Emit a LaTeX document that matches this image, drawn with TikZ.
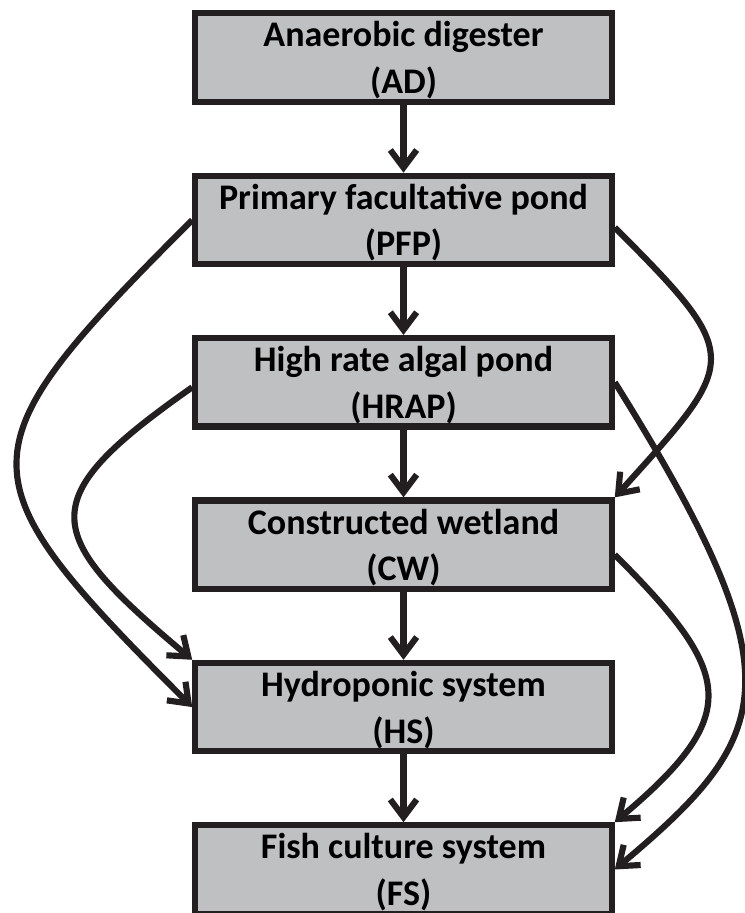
\documentclass[tikz,border=0pt]{standalone}
\usepackage{fontspec}
\setmainfont{Carlito}
\usetikzlibrary{arrows.meta}
\definecolor{boxgray}{RGB}{191,192,194}
\definecolor{linedark}{RGB}{35,31,32}
\newcommand{\stagetext}[2]{\rule{0pt}{17.5pt}#1\\(#2)}
\tikzset{
  stage/.style={draw=linedark, fill=boxgray, line width=3.5pt, minimum width=8.33cm,
    minimum height=1.77cm, inner sep=0pt, align=center,
    font=\bfseries\fontsize{20.5}{26.5}\selectfont},
  flow/.style={draw=linedark, line width=3.5pt, -{Straight Barb[length=10pt,width=15pt]}}
}
\begin{document}
\begin{tikzpicture}[x=0.02cm,y=0.02cm]
  \useasboundingbox (0,0) rectangle (744,913);

  % Stages of the treatment chain
  \node[stage] (AD)   at (403.5,855.5) {\stagetext{Anaerobic digester}{AD}};
  \node[stage] (PFP)  at (403.5,693.0) {\stagetext{Primary facultative pond}{PFP}};
  \node[stage] (HRAP) at (403.5,530.7) {\stagetext{High rate algal pond}{HRAP}};
  \node[stage] (CW)   at (403.5,368.3) {\stagetext{Constructed wetland}{CW}};
  \node[stage] (HS)   at (403.5,205.9) {\stagetext{Hydroponic system}{HS}};
  \node[stage] (FS)   at (403.5,43.5)  {\stagetext{Fish culture system}{FS}};

  % Main line, top to bottom
  \draw[flow] (AD) -- (PFP);
  \draw[flow] (PFP) -- (HRAP);
  \draw[flow] (HRAP) -- (CW);
  \draw[flow] (CW) -- (HS);
  \draw[flow] (HS) -- (FS);

  % Bypasses on the left
  \draw[flow] (PFP.west) .. controls +(225:330) and +(135:330) .. (HS.west);
  \draw[flow] ([yshift=-1mm]HRAP.west) .. controls +(215:197) and +(140:197) .. (HS.north west);

  % Bypasses on the right
  \draw[flow] ([yshift=-1.5mm]PFP.east) .. controls +(-45:185) and +(48:185) .. (CW.north east);
  \draw[flow] (HRAP.east) .. controls +(-58:350) and +(40:209) .. (FS.east);
  \draw[flow] ([yshift=-2mm]CW.east) .. controls +(-45:168) and +(40:168) .. (FS.north east);
\end{tikzpicture}
\end{document}
